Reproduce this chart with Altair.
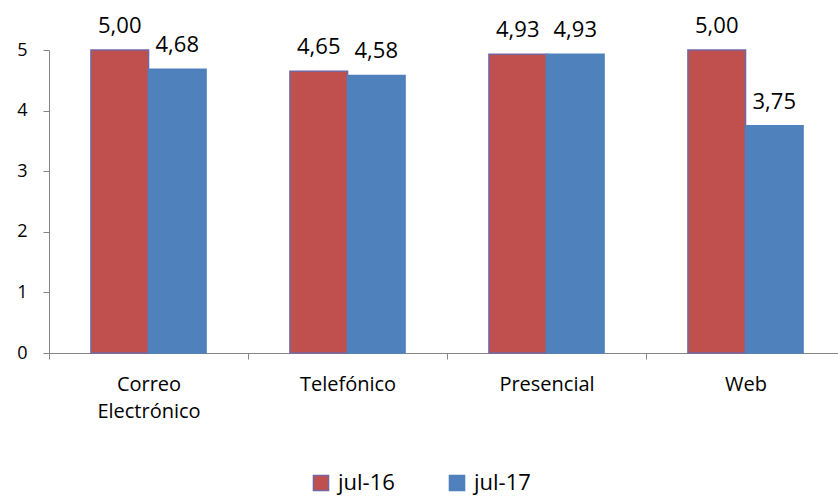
import altair as alt
import pandas as pd

categories = ["Correo\nElectrónico", "Telefónico", "Presencial", "Web"]
series = ["jul-16", "jul-17"]
values_jul16 = [5.00, 4.65, 4.93, 5.00]
values_jul17 = [4.68, 4.58, 4.93, 3.75]

rows = []
for i, c in enumerate(categories):
    rows.append({"cat": c, "serie": series[0], "v": values_jul16[i]})
    rows.append({"cat": c, "serie": series[1], "v": values_jul17[i]})
df = pd.DataFrame(rows)

FONT = "Open Sans"

x_enc = alt.X("cat:N", sort=categories, title=None,
              scale=alt.Scale(paddingInner=0, paddingOuter=0, range=[0, 796]),
              axis=alt.Axis(labelAngle=0, labelFontSize=20, labelFont=FONT,
                            labelColor="#000000", labelPadding=15,
                            tickBand="extent", tickSize=6, tickColor="#868686",
                            domainColor="#868686", labelLineHeight=27,
                            labelExpr="split(datum.label, '\\n')"))
xoff = alt.XOffset("serie:N", sort=series,
                   scale=alt.Scale(paddingInner=0, paddingOuter=0.73))

legend_cfg = dict(orient="none", direction="horizontal",
                  legendX=261, legendY=422,
                  symbolType="square", symbolSize=225,
                  labelFontSize=22, labelFont=FONT,
                  labelColor="#000000", labelOffset=6,
                  columnPadding=51, symbolStrokeWidth=1.6)

base = alt.Chart(df)

bars = base.mark_bar(strokeWidth=1.6).encode(
    x=x_enc,
    xOffset=xoff,
    y=alt.Y("v:Q", title=None,
            scale=alt.Scale(domain=[0, 5], nice=False),
            axis=alt.Axis(values=[0, 1, 2, 3, 4, 5], format="d", grid=False, tickSize=6,
                          tickColor="#868686", domainColor="#868686",
                          labelFontSize=18, labelFont=FONT, labelColor="#000000",
                          labelPadding=16)),
    color=alt.Color("serie:N", sort=series, title=None,
                    scale=alt.Scale(domain=series, range=["#C0504D", "#4F81BD"]),
                    legend=alt.Legend(**legend_cfg)),
    stroke=alt.Stroke("serie:N", sort=series, title=None,
                      scale=alt.Scale(domain=series, range=["#7566A3", "#4F81BD"]),
                      legend=alt.Legend(**legend_cfg)),
)

labels = base.transform_calculate(
    lbl="replace(format(datum.v, '.2f'), '.', ',')"
).mark_text(dy=-17, baseline="alphabetic", fontSize=22, font=FONT, color="#000000").encode(
    x=alt.X("cat:N", sort=categories),
    xOffset=xoff,
    y=alt.Y("v:Q"),
    text="lbl:N",
)

chart = alt.layer(bars, labels).properties(
    width=789, height=303,
    autosize=alt.AutoSizeParams(type="none"),
    padding={"left": 49, "top": 50, "right": 0, "bottom": 143},
    background="white",
).configure_view(stroke=None)

chart.save("out.html", embed_options={"renderer": "svg", "actions": False})
